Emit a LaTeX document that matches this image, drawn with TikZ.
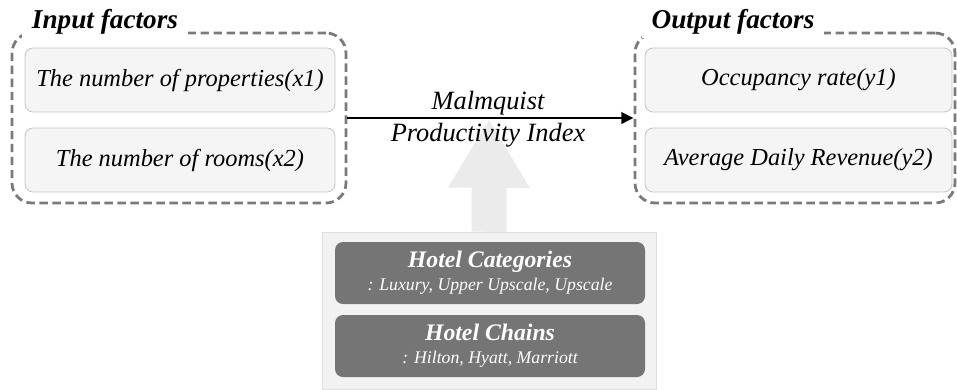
\documentclass[tikz,border=0pt]{standalone}
\usepackage{fontspec}
\setmainfont{Liberation Serif}
\usetikzlibrary{arrows.meta}

\begin{document}
\begin{tikzpicture}[>=Latex,
  group/.style={draw=black!52, line width=1.6pt, dash pattern=on 4.8pt off 2.6pt, rounded corners=0.4cm, minimum width=#1, minimum height=3.40cm},
  grouptitle/.style={fill=white, inner xsep=0.2cm, inner ysep=2pt, font=\fontsize{15.5}{17}\selectfont\bfseries\itshape},
  factor/.style={draw=black!22, fill=black!4, line width=0.5pt, rounded corners=0.16cm, minimum width=#1, minimum height=1.28cm, font=\fontsize{13.9}{16}\selectfont\itshape},
  panel/.style={draw=black!12, fill=black!5, line width=0.5pt, minimum width=6.68cm, minimum height=3.14cm},
  attr/.style={fill=black!54, text=white, rounded corners=0.16cm, minimum width=6.20cm, minimum height=1.24cm, align=center},
  edge/.style={-{Triangle[length=7pt,width=6.5pt]}, line width=1.5pt, draw=black},
  fat/.style={fill=black!8}
]
\useasboundingbox (0,0) rectangle (19.14,-7.78);
% input / output groups
\node[group=6.68cm] (inbox) at (3.58,-2.36) {};
\node[group=6.40cm] (outbox) at (15.90,-2.36) {};
\node[grouptitle] (intitle) at (2.10,-0.44) {Input factors};
\node[grouptitle] (outtitle) at (14.66,-0.44) {Output factors};
\node[factor=6.20cm] (in1) at (3.60,-1.60) {The number of properties(x1)};
\node[factor=6.20cm] (in2) at (3.60,-3.20) {The number of rooms(x2)};
\node[factor=6.14cm] (out1) at (15.97,-1.60) {Occupancy rate(y1)};
\node[factor=6.14cm] (out2) at (15.97,-3.20) {Average Daily Revenue(y2)};
% hotel attributes
\node[panel] (panel) at (9.78,-6.21) {};
\coordinate (tip) at (9.78,-2.40);
\fill[fat] (panel.north) ++(-0.35,0) -- ++(0,0.88) -- ++(-0.47,0) -- (tip)
  -- ++(0.82,-1.36) -- ++(-0.47,0) -- ++(0,-0.88) -- cycle;
\node[attr] (cat) at (9.80,-5.46) {{\fontsize{13.5}{15}\selectfont\bfseries\itshape Hotel Categories}\\[1pt]{\fontsize{10.1}{12}\selectfont\itshape : Luxury, Upper Upscale, Upscale}};
\node[attr] (chain) at (9.80,-6.92) {{\fontsize{13.5}{15}\selectfont\bfseries\itshape Hotel Chains}\\[1pt]{\fontsize{10.1}{12}\selectfont\itshape : Hilton, Hyatt, Marriott}};
\draw[edge] (inbox.east) -- (outbox.west);
\node[align=center, font=\fontsize{15}{18.1}\selectfont\itshape] (mpi) at (9.76,-2.38) {Malmquist\\Productivity Index};
\end{tikzpicture}
\end{document}
